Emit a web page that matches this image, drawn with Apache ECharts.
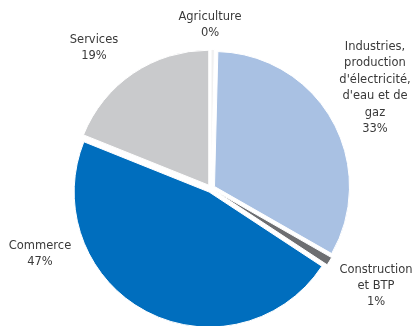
<!DOCTYPE html>
<html><head><meta charset="utf-8">
<script src="https://cdn.jsdelivr.net/npm/echarts@6/dist/echarts.min.js"></script>
<style>html,body{margin:0;padding:0;background:#fff}#c{width:416px;height:326px}</style>
</head><body><div id="c"></div>
<script>
var categories = ["Agriculture", "Industries,\nproduction\nd'électricité,\nd'eau et de\ngaz", "Construction\net BTP", "Commerce", "Services"];
var values = [0.4, 33, 1, 47, 19];
var colors = ["#f0f0f0", "#a9c1e3", "#6d6e71", "#006ebe", "#c9cacc"];
var labelCenters = [[210, 25], [375, 88], [376, 286], [40, 254], [94, 48]];
var total = values.reduce(function (a, b) { return a + b; }, 0);
var chart = echarts.init(document.getElementById('c'));
chart.setOption({
  animation: false,
  graphic: categories.map(function (c, i) {
    return {
      type: 'text', x: labelCenters[i][0], y: labelCenters[i][1], silent: true,
      style: {
        text: c + '\n' + Math.round(values[i] / total * 100) + '%',
        fill: '#3a3a3a', font: '11.5px "DejaVu Sans"', lineHeight: 16.4,
        align: 'center', verticalAlign: 'middle'
      }
    };
  }),
  series: [{
    type: 'pie',
    center: [211, 188.5],
    radius: 135,
    startAngle: 90,
    clockwise: true,
    selectedMode: 'multiple',
    selectedOffset: 4,
    itemStyle: { borderColor: '#fff', borderWidth: 1 },
    emphasis: { disabled: true },
    label: { show: false },
    labelLine: { show: false },
    data: categories.map(function (c, i) { return { name: c, value: values[i], selected: true, itemStyle: { color: colors[i] } }; })
  }]
});
</script></body></html>
